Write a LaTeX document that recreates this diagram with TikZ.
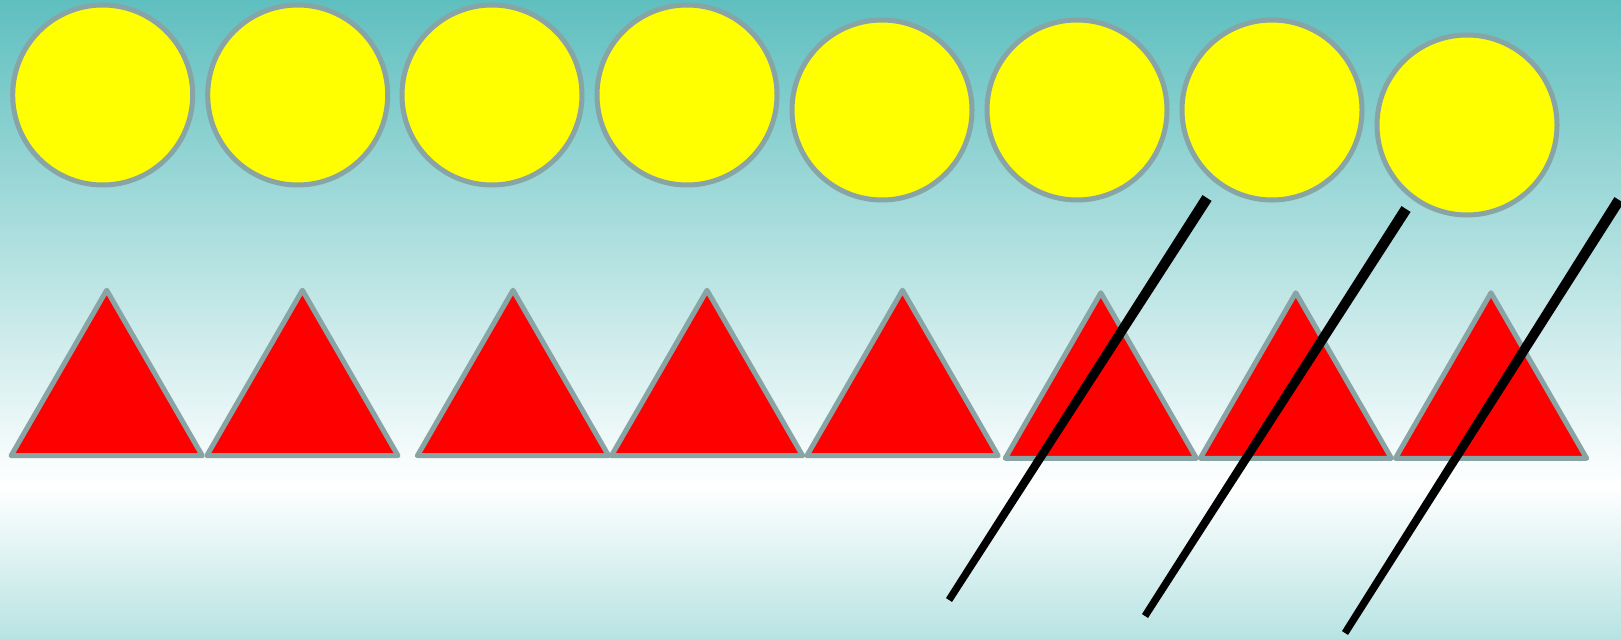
\documentclass[tikz,border=0pt]{standalone}
\usepackage{xcolor}
\usepackage{tikz}
\usetikzlibrary{calc}
\definecolor{SkyTop}{RGB}{95,191,191}
\definecolor{SkyLow}{RGB}{184,227,227}
\definecolor{Rim}{RGB}{136,164,164}
\definecolor{Sun}{RGB}{255,255,0}
\definecolor{Flag}{RGB}{255,0,0}
\pgfdeclareverticalshading{skyband}{100bp}{color(0bp)=(SkyLow); color(25bp)=(SkyLow); color(37bp)=(white); color(75bp)=(SkyTop); color(100bp)=(SkyTop)}
\tikzset{
  sunball/.style={circle,draw=Rim,fill=Sun,line width=5pt,minimum size=180pt,inner sep=0pt},
  peak/.style={draw=Rim,fill=Flag,line width=5pt,line join=round},
  slash/.style={fill=black}
}
\begin{document}
\begin{tikzpicture}[x=1pt,y=-1pt]
\shade[shading=skyband] (0,0) rectangle (1621,639);
\useasboundingbox (0,0) rectangle (1621,639);
% yellow discs
\foreach \cx/\cy [count=\i] in {102.7/95,297.7/95,492/95,687/95,882/110,1077/110,1272/110,1467/125}
  \node[sunball] (sun\i) at (\cx,\cy) {};
% red triangles
\foreach \ax/\ay [count=\i] in {106.7/290.2,302.4/290.2,513/290.2,707/290.2,902.5/290.2,1100.8/292.8,1295.8/292.8,1491/292.8}
  \draw[peak] (\ax,\ay) coordinate (top\i) -- ++(95.6,165.5) -- ++(-191.2,0) -- cycle;
% black strokes
\foreach \bx/\by/\tx/\ty [count=\i] in {949/600/1207/198,1145/616/1406/209,1345/633/1619/200}{
  \coordinate (foot\i) at (\bx,\by);
  \coordinate (tip\i) at (\tx,\ty);
  \fill[slash] ($(foot\i)!3.6pt!90:(tip\i)$) -- ($(foot\i)!3.6pt!-90:(tip\i)$)
    -- ($(tip\i)!5.4pt!90:(foot\i)$) -- ($(tip\i)!5.4pt!-90:(foot\i)$) -- cycle;
}
\end{tikzpicture}
\end{document}
